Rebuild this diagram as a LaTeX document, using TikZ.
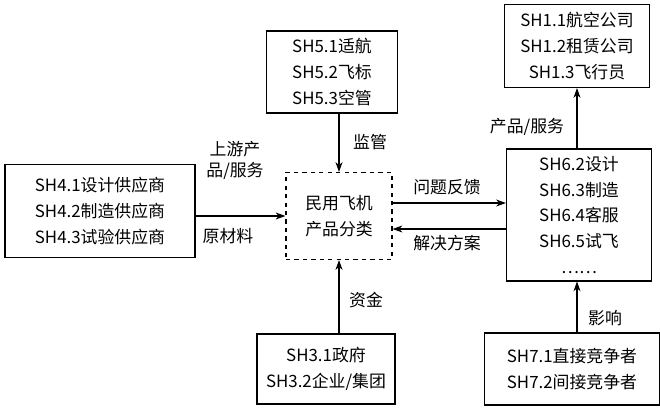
\documentclass[tikz,border=0pt]{standalone}
\usepackage{fontspec}
\newfontfamily\cjk{Noto Sans CJK SC}
\usetikzlibrary{arrows.meta,positioning}
\tikzset{
  box/.style={draw, thick, align=center, inner sep=5pt, font=\cjk\fontsize{12}{18.4}\selectfont},
  link/.style={thick, -{Stealth[length=7pt,width=5pt]}},
  lbl/.style={font=\cjk\fontsize{12}{15}\selectfont, align=center}
}
\begin{document}
\begin{tikzpicture}[x=0.025cm,y=-0.025cm]
    \useasboundingbox (0,0) rectangle (660,412);
    %%boxes
    \node[box, minimum width=106*0.025cm, minimum height=87*0.025cm, dashed] (core) at (339,216) {民用飞机\\产品分类};
    \node[box, minimum width=131*0.025cm, minimum height=82*0.025cm] (reg) at (332,72) {SH5.1适航\\SH5.2飞标\\SH5.3空管};
    \node[box, minimum width=145*0.025cm, minimum height=83*0.025cm] (user) at (577,46) {SH1.1航空公司\\SH1.2租赁公司\\SH1.3飞行员};
    \node[box, minimum width=190*0.025cm, minimum height=93*0.025cm] (sup) at (100,211) {SH4.1设计供应商\\SH4.2制造供应商\\SH4.3试验供应商};
    \node[box, minimum width=145*0.025cm, minimum height=120*0.025cm] (mfr) at (579,215) {SH6.2设计\\SH6.3制造\\SH6.4客服\\SH6.5试飞\\……};
    \node[box, minimum width=138*0.025cm, minimum height=70*0.025cm] (gov) at (326,369) {SH3.1政府\\SH3.2企业/集团};
    \node[box, minimum width=175*0.025cm, minimum height=72*0.025cm] (comp) at (572,369) {SH7.1直接竞争者\\SH7.2间接竞争者};
    %%connectors
    \draw[link] (reg.south -| core.north) -- (core.north);
    \draw[link] (sup.east |- core) -- (core.west);
    \draw[link] (gov.north -| core.south) -- (core.south);
    \draw[link] ([yshift=13*0.025cm]core.east) -- ([yshift=13*0.025cm]core.east -| mfr.west);
    \draw[link] ([yshift=-13*0.025cm]core.east -| mfr.west) -- ([yshift=-13*0.025cm]core.east);
    \draw[link] (mfr.north -| user.south) -- (user.south);
    \draw[link] (comp.north -| user.south) -- (user.south |- mfr.south);
    %%labels
    \draw
    (370,142) node[lbl]{监管}
    (235,160) node[lbl]{上游产\\品/服务}
    (228,236) node[lbl]{原材料}
    (447,187) node[lbl]{问题反馈}
    (447,243) node[lbl]{解决方案}
    (366,300) node[lbl]{资金}
    (527,127) node[lbl]{产品/服务}
    (605,318) node[lbl]{影响};
\end{tikzpicture}
\end{document}
